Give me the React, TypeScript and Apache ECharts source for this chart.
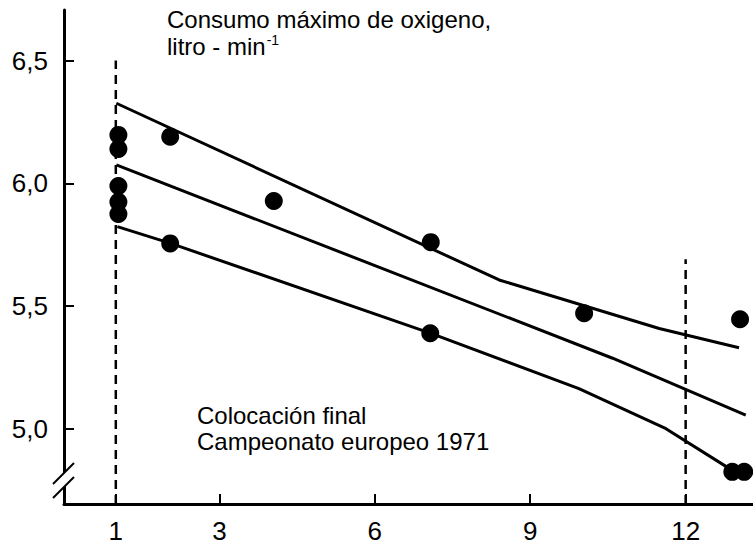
import React, { useEffect, useRef } from "react";
import * as echarts from "echarts";

// Tick values
const xTicks = [1, 3, 6, 9, 12];
const yTicks = [5.0, 5.5, 6.0, 6.5];

// Observed points [placing, VO2max]
const points: [number, number][] = [
  [1.05, 6.197], [1.05, 6.14], [1.05, 5.989], [1.05, 5.924], [1.05, 5.875],
  [2.05, 6.19], [2.05, 5.755],
  [4.05, 5.928],
  [7.08, 5.76], [7.07, 5.389],
  [10.04, 5.47],
  [13.05, 5.446],
  [12.9, 4.824], [13.13, 4.824],
];

// Upper, middle and lower lines
const upperLine: [number, number][] = [[1.01, 6.326], [8.4, 5.606], [11.49, 5.408], [13.03, 5.33]];
const middleLine: [number, number][] = [[1.01, 6.075], [10.59, 5.287], [13.16, 5.055]];
const lowerLine: [number, number][] = [[1.03, 5.823], [2.06, 5.755], [7.07, 5.389], [9.94, 5.163], [11.62, 5.0], [12.9, 4.83]];

// Dashed reference lines
const dash1: [number, number][] = [[1, 4.693], [1, 6.5]];
const dash12: [number, number][] = [[12, 4.693], [12, 5.69]];

const FONT = "Liberation Sans, Arial, Helvetica, sans-serif";

export default function App() {
  const ref = useRef<HTMLDivElement>(null);
  useEffect(() => {
    document.body.style.margin = "0";
    const chart = echarts.init(ref.current!, null, { renderer: "svg" });
    const lineSeries = (data: [number, number][], dashed = false) => ({
      type: "line",
      data,
      symbol: "none",
      silent: true,
      lineStyle: dashed
        ? { color: "#000", width: 2.5, type: [9, 6] }
        : { color: "#000", width: 3 },
      z: 2,
    });
    chart.setOption({
      animation: false,
      backgroundColor: "#fff",
      grid: { left: 64, right: 0, top: 10, bottom: 42, containLabel: false },
      xAxis: {
        type: "value",
        min: 0,
        max: 13.3,
        splitLine: { show: false },
        axisLine: { show: true, lineStyle: { color: "#000", width: 3 } },
        axisTick: { show: true, inside: true, length: 10, lineStyle: { color: "#000", width: 2 }, customValues: xTicks },
        axisLabel: { customValues: xTicks, color: "#000", fontSize: 26, fontFamily: FONT, margin: 14 },
      },
      yAxis: {
        type: "value",
        min: 4.693,
        max: 6.706,
        splitLine: { show: false },
        axisLine: { show: true, lineStyle: { color: "#000", width: 3 } },
        axisTick: { show: true, inside: true, length: 10, lineStyle: { color: "#000", width: 2 }, customValues: yTicks },
        axisLabel: {
          customValues: yTicks,
          color: "#000",
          fontSize: 26,
          fontFamily: FONT,
          margin: 16,
          formatter: (v: number) => v.toFixed(1).replace(".", ","),
        },
      },
      series: [
        lineSeries(dash1, true),
        lineSeries(dash12, true),
        lineSeries(upperLine),
        lineSeries(middleLine),
        lineSeries(lowerLine),
        {
          type: "scatter",
          data: points,
          symbol: "circle",
          symbolSize: 18,
          itemStyle: { color: "#000", opacity: 1 },
          z: 3,
        },
      ],
      graphic: [
        { type: "polygon", shape: { points: [[53, 498], [74, 477], [74, 463], [53, 484]] }, style: { fill: "#fff" }, z: 100 },
        { type: "line", shape: { x1: 53, y1: 498, x2: 74, y2: 477 }, style: { stroke: "#000", lineWidth: 2 }, z: 101 },
        { type: "line", shape: { x1: 53, y1: 484, x2: 74, y2: 463 }, style: { stroke: "#000", lineWidth: 2 }, z: 101 },
        {
          type: "text", left: 167, top: 6, z: 101,
          style: {
            text: "Consumo máximo de oxigeno,\n{a|litro - min}{s|-1}",
            fontSize: 24, fontFamily: FONT, fill: "#000", lineHeight: 27,
            rich: {
              a: { fontSize: 24, fontFamily: FONT, lineHeight: 27 },
              s: { fontSize: 14, fontFamily: FONT, verticalAlign: "top", lineHeight: 27, padding: [0, 0, 0, 1] },
            },
          },
        },
        {
          type: "text", left: 197, top: 402, z: 101,
          style: { text: "Colocación final\nCampeonato europeo 1971", fontSize: 24, fontFamily: FONT, fill: "#000", lineHeight: 26 },
        },
      ],
    });
    return () => chart.dispose();
  }, []);
  return <div ref={ref} style={{ width: 753, height: 546 }} />;
}
